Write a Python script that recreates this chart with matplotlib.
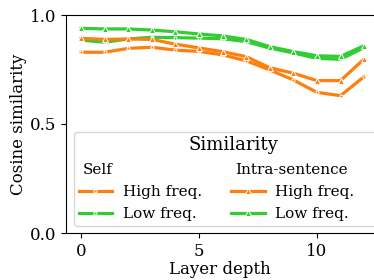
import numpy as np
import matplotlib
matplotlib.use("Agg")
import matplotlib.pyplot as plt
import matplotlib as mpl

mpl.rcParams['font.family'] = 'DejaVu Serif'
mpl.rcParams['font.size'] = 11

layers = np.arange(13)

# Self similarity
self_high = [0.829, 0.829, 0.847, 0.852, 0.839, 0.833, 0.817, 0.790, 0.748, 0.702, 0.645, 0.630, 0.717]
self_low = [0.885, 0.875, 0.890, 0.898, 0.896, 0.894, 0.891, 0.878, 0.848, 0.826, 0.801, 0.797, 0.850]
# Intra-sentence similarity
intra_high = [0.893, 0.888, 0.890, 0.888, 0.866, 0.849, 0.832, 0.809, 0.758, 0.733, 0.699, 0.699, 0.798]
intra_low = [0.939, 0.936, 0.936, 0.931, 0.923, 0.913, 0.904, 0.888, 0.855, 0.832, 0.813, 0.810, 0.859]

ORANGE = '#ff7f0e'
GREEN = '#33cc33'

fig = plt.figure(figsize=(3.74, 2.8), dpi=100)
ax = fig.add_axes([66/374, 1-233/280, 1-66/374, (233-15)/280])

line_kw = dict(lw=2.3, markersize=4.5, markeredgecolor='white', markeredgewidth=0.7)
ax.plot([], [], ' ', label='Self')
ax.plot(layers, self_high, '.-', color=ORANGE, label='High freq.', **line_kw)
ax.plot(layers, self_low, '.-', color=GREEN, label='Low freq.', **line_kw)
ax.plot([], [], ' ', label='Intra-sentence')
ax.plot(layers, intra_high, '^-', color=ORANGE, label='High freq.',
        lw=2.3, markersize=4, markeredgecolor='white', markerfacecolor=ORANGE, markeredgewidth=0.7)
ax.plot(layers, intra_low, '^-', color=GREEN, label='Low freq.',
        lw=2.3, markersize=4, markeredgecolor='white', markerfacecolor=GREEN, markeredgewidth=0.7)

ax.set_xlim(-0.64, 12.42)
ax.set_ylim(0, 1)
ax.set_xticks([0, 5, 10])
ax.set_yticks([0, 0.5, 1.0])
ax.tick_params(labelsize=12)
ax.spines['right'].set_visible(False)
ax.set_xlabel('Layer depth', fontsize=12, labelpad=1)
ax.set_ylabel('Cosine similarity', fontsize=12, labelpad=2)

leg = ax.legend(ncol=2, title='Similarity', title_fontsize=13, fontsize=11,
                loc='lower left', bbox_to_anchor=(0.026, 0.032), borderaxespad=0,
                borderpad=0.3, handlelength=2.2, handletextpad=0.7, columnspacing=1.9,
                labelspacing=0.55, edgecolor='#cccccc')
# shift the column headers left to where the handles sit
for t in leg.get_texts():
    if t.get_text() in ('Self', 'Intra-sentence'):
        t.set_position((-40, 0))

fig.savefig('out.png', dpi=100)
